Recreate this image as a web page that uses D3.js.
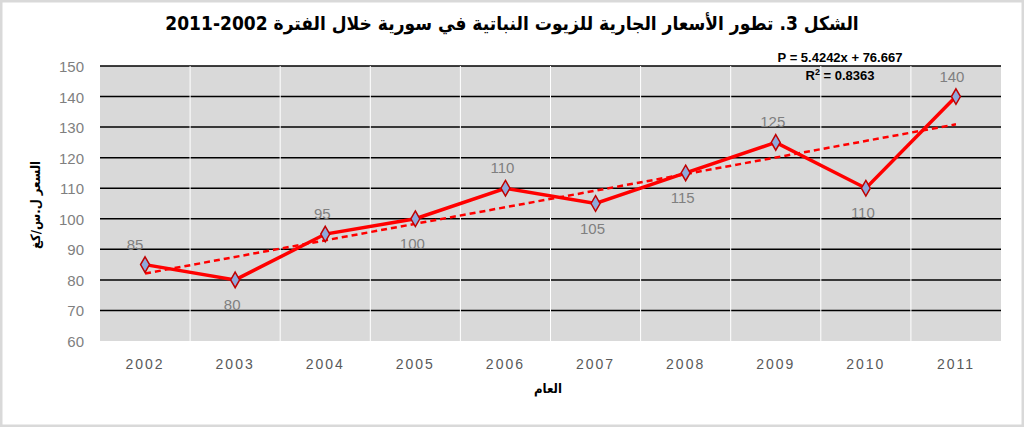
<!DOCTYPE html>
<html><head><meta charset="utf-8">
<script src="https://cdn.jsdelivr.net/npm/d3@7"></script>
<style>body{margin:0;background:#fff}</style></head>
<body><svg id="c" width="1024" height="427"></svg>
<script>
var years = ['2002','2003','2004','2005','2006','2007','2008','2009','2010','2011'];
var prices = [85, 80, 95, 100, 110, 105, 115, 125, 110, 140];
var labelPos = [-1, 1, -1, 1, -1, 1, 1, -1, 1, -1]; // -1 above, 1 below
var yTicks = [60, 70, 80, 90, 100, 110, 120, 130, 140, 150];
var trendSlope = 5.4242, trendIntercept = 76.667;

var svg = d3.select('#c');
svg.append('rect').attr('x', 1).attr('y', 1).attr('width', 1022).attr('height', 425)
	.attr('fill', '#fff').attr('stroke', '#d9d9d9').attr('stroke-width', 3);

var pLeft = 100, pRight = 1001, pTop = 66, pBottom = 341;
var x = d3.scaleBand().domain(years).range([pLeft, pRight]);
var y = d3.scaleLinear().domain([60, 150]).range([pBottom, pTop]);

svg.append('rect').attr('x', pLeft).attr('y', pTop).attr('width', pRight - pLeft).attr('height', pBottom - pTop).attr('fill', '#d9d9d9');

//gridlines
svg.selectAll('.g').data(yTicks.slice(1)).enter().append('line')
	.attr('x1', pLeft).attr('x2', pRight).attr('y1', function(d) { return y(d) }).attr('y2', function(d) { return y(d) })
	.attr('stroke', '#000').attr('stroke-width', 1.5);
svg.selectAll('.v').data(years.slice(1)).enter().append('line')
	.attr('x1', function(d) { return x(d) }).attr('x2', function(d) { return x(d) })
	.attr('y1', pTop).attr('y2', pBottom).attr('stroke', '#fff').attr('stroke-width', 1);

svg.selectAll('.yt').data(yTicks).enter().append('text')
	.attr('x', 84).attr('y', function(d) { return y(d) + 6 }).attr('text-anchor', 'end')
	.attr('font-family', 'Liberation Sans, Arial').attr('font-size', 15).attr('fill', '#7f7f7f').text(function(d) { return d });
svg.selectAll('.xt').data(years).enter().append('text')
	.attr('x', function(d) { return x(d) + x.bandwidth() / 2 }).attr('y', 369).attr('text-anchor', 'middle')
	.attr('font-family', 'Liberation Sans, Arial').attr('font-size', 14).attr('letter-spacing', 2).attr('fill', '#595959').text(function(d) { return d });

var cx = function(i) { return x(years[i]) + x.bandwidth() / 2 };

//trendline
svg.append('line').attr('x1', cx(0)).attr('x2', cx(9))
	.attr('y1', y(trendSlope * 1 + trendIntercept)).attr('y2', y(trendSlope * 10 + trendIntercept))
	.attr('stroke', '#ff0000').attr('stroke-width', 2.5).attr('stroke-dasharray', '6,4');

svg.append('path').datum(prices)
	.attr('d', d3.line().x(function(d, i) { return cx(i) }).y(function(d) { return y(d) }))
	.attr('fill', 'none').attr('stroke', '#ff0000').attr('stroke-width', 3.5);

svg.selectAll('.m').data(prices).enter().append('path')
	.attr('d', d3.symbol().type(d3.symbolDiamond).size(70))
	.attr('transform', function(d, i) { return 'translate(' + cx(i) + ',' + y(d) + ')' })
	.attr('fill', '#8ea9db').attr('stroke', '#c00000').attr('stroke-width', 1.5);

//data labels
svg.selectAll('.dl').data(prices).enter().append('text')
	.attr('x', function(d, i) { return cx(i) + (i == 0 ? -10 : i == 9 ? -4 : -3) })
	.attr('y', function(d, i) { return y(d) + (labelPos[i] < 0 ? -15 : 30) })
	.attr('text-anchor', 'middle').attr('font-family', 'Liberation Sans, Arial').attr('font-size', 15)
	.attr('fill', '#7f7f7f').text(function(d) { return d });

//equation
svg.append('text').attr('x', 840).attr('y', 62).attr('text-anchor', 'middle')
	.attr('font-family', 'Liberation Sans Narrow, Liberation Sans').attr('font-weight', 'bold').attr('font-size', 13)
	.text('P = 5.4242x + 76.667');
var r2 = svg.append('text').attr('x', 840).attr('y', 80).attr('text-anchor', 'middle')
	.attr('font-family', 'Liberation Sans Narrow, Liberation Sans').attr('font-weight', 'bold').attr('font-size', 13);
r2.append('tspan').text('R');
r2.append('tspan').attr('dy', -5).attr('font-size', 9).text('2');
r2.append('tspan').attr('dy', 5).text(' = 0.8363');

svg.append('text').attr('x', 512).attr('y', 30).attr('text-anchor', 'middle').attr('direction', 'rtl')
	.attr('font-family', 'DejaVu Sans Condensed, DejaVu Sans').attr('font-weight', 'bold').attr('font-size', 19)
	.text('الشكل 3. تطور الأسعار الجارية للزيوت النباتية في سورية خلال الفترة 2002-2011');
svg.append('text').attr('transform', 'translate(40,205) rotate(-90)').attr('text-anchor', 'middle').attr('direction', 'rtl')
	.attr('font-family', 'DejaVu Sans Condensed, DejaVu Sans').attr('font-weight', 'bold').attr('font-size', 13)
	.text('السعر ل.س/كغ');
svg.append('text').attr('x', 548).attr('y', 393).attr('text-anchor', 'middle')
	.attr('font-family', 'DejaVu Sans Condensed, DejaVu Sans').attr('font-weight', 'bold').attr('font-size', 13)
	.text('العام');
</script></body></html>
